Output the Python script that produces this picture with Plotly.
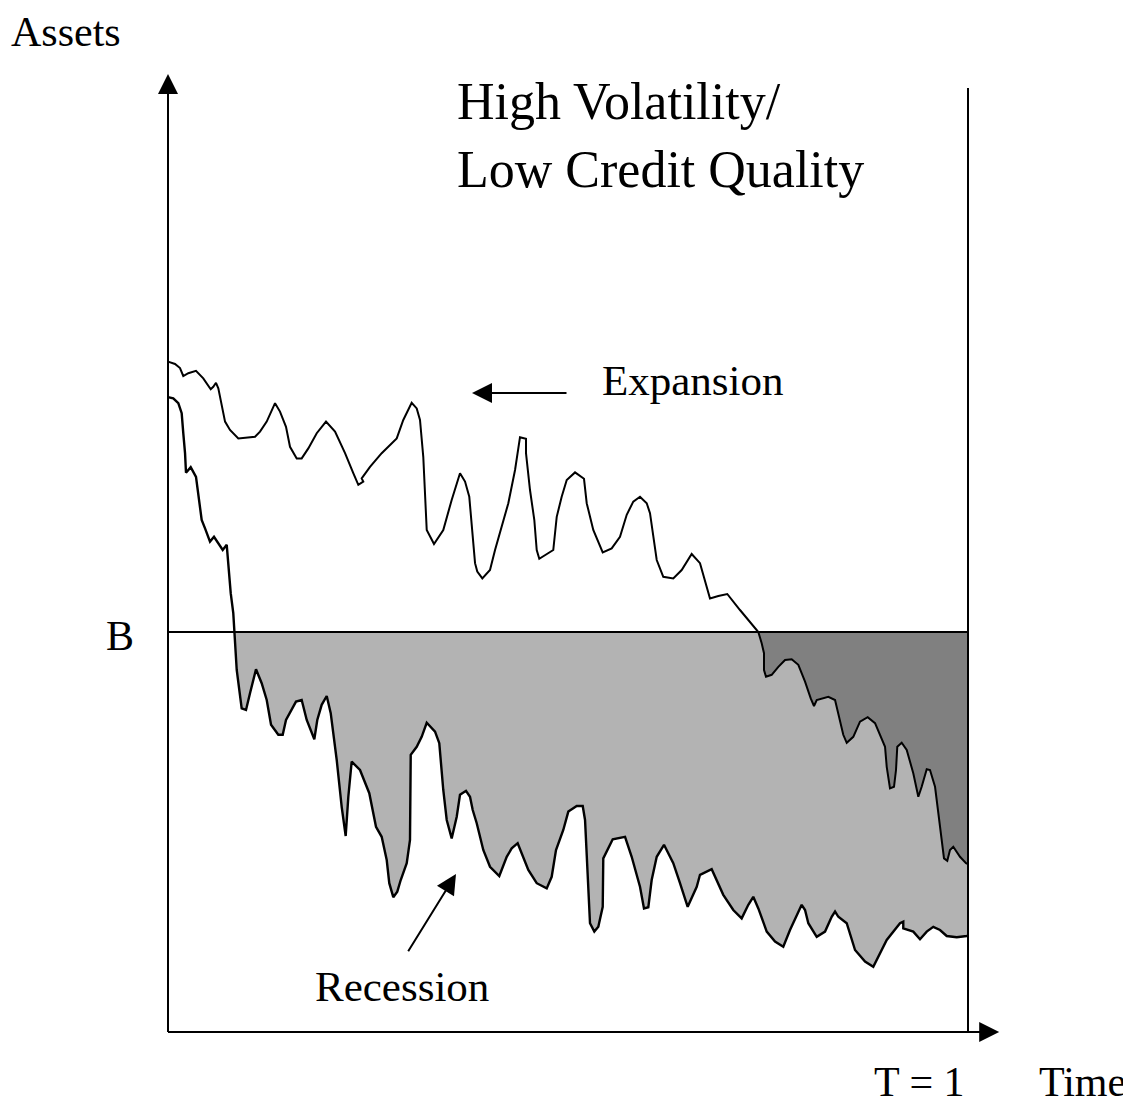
import plotly.graph_objects as go

# ---- data (time as fraction of horizon T, assets with default barrier B = 100) ----
B_LEVEL = 100.0
T_END = 1.0

time_expansion = [
    0.000, 0.0088, 0.015, 0.0191, 0.0254, 0.035, 0.0441, 0.0534, 0.0566, 0.06,
    0.0629, 0.0671, 0.0713, 0.0775, 0.0879, 0.1088, 0.115, 0.1234, 0.1338, 0.14,
    0.1475, 0.1525, 0.1609, 0.1671, 0.1754, 0.1859, 0.1975, 0.2088, 0.2213, 0.2316,
    0.2379, 0.2441, 0.2421, 0.2525, 0.2671, 0.2859, 0.2941, 0.3046, 0.3109, 0.315,
    0.3191, 0.3234, 0.3325, 0.3441, 0.3546, 0.365, 0.3713, 0.3766, 0.3796, 0.3838,
    0.3866, 0.3929, 0.4025, 0.4088, 0.4254, 0.4338, 0.44, 0.4475, 0.4475, 0.4525,
    0.4579, 0.4609, 0.4641, 0.4816, 0.4859, 0.4921, 0.4984, 0.5088, 0.52, 0.5234,
    0.5316, 0.5434, 0.5546, 0.565, 0.5734, 0.5816, 0.59, 0.5984, 0.6025, 0.6109,
    0.6191, 0.6316, 0.6421, 0.6546, 0.665, 0.6713, 0.6775, 0.6879, 0.6991, 0.715,
    0.7379, 0.7421, 0.745, 0.745, 0.7475, 0.7546, 0.7629, 0.7713, 0.7796, 0.7879,
    0.7963, 0.8034, 0.8075, 0.8109, 0.8254, 0.8338, 0.84, 0.8441, 0.8484, 0.8566,
    0.865, 0.8746, 0.8838, 0.8921, 0.8963, 0.8984, 0.9025, 0.9075, 0.91, 0.9116,
    0.9171, 0.9234, 0.9316, 0.9379, 0.9421, 0.9484, 0.9525, 0.9588, 0.9629, 0.9671,
    0.97, 0.9741, 0.9775, 0.9816, 0.99, 0.9975, 1.0,
]
assets_expansion = [
    167.6, 167.0, 166.0, 164.0, 164.7, 165.3, 163.4, 160.7, 161.3, 162.3,
    160.9, 156.3, 152.6, 150.5, 148.4, 148.8, 150.1, 152.6, 157.2, 155.1,
    151.3, 146.3, 143.4, 143.4, 145.9, 149.7, 152.6, 150.1, 144.7, 139.7,
    136.8, 137.6, 138.4, 141.3, 144.7, 148.4, 153.0, 157.3, 155.9, 153.0,
    143.8, 125.5, 122.0, 125.5, 133.0, 139.7, 137.6, 133.8, 127.2, 117.2,
    115.1, 113.4, 115.5, 120.5, 132.2, 140.5, 148.7, 148.3, 144.7, 135.5,
    128.0, 120.5, 118.3, 120.5, 128.8, 133.8, 138.0, 139.9, 138.3, 132.2,
    125.5, 119.9, 120.9, 123.8, 129.3, 132.6, 133.8, 132.2, 129.7, 118.0,
    113.8, 113.4, 115.5, 119.5, 117.2, 113.0, 108.4, 109.0, 109.5, 105.5,
    100.0, 97.2, 94.7, 90.5, 88.8, 89.3, 91.3, 93.0, 93.2, 91.8,
    87.6, 83.4, 81.5, 83.0, 83.8, 83.0, 78.0, 74.3, 72.3, 73.8,
    77.6, 78.7, 77.2, 73.4, 71.3, 66.3, 60.9, 61.3, 65.5, 71.3,
    72.3, 70.5, 64.7, 58.8, 61.3, 65.7, 65.5, 61.3, 54.7, 48.8,
    43.4, 42.8, 45.5, 46.3, 43.8, 42.2, 42.0,
]

time_recession = [
    0.0, 0.0066, 0.0129, 0.0171, 0.0191, 0.0213, 0.0225, 0.0284, 0.035, 0.0379,
    0.0421, 0.0463, 0.0525, 0.0575, 0.0629, 0.0684, 0.0734, 0.0754, 0.0784, 0.0816,
    0.0834, 0.0859, 0.0921, 0.0975, 0.1025, 0.11, 0.1171, 0.1234, 0.1288, 0.1379,
    0.1434, 0.1475, 0.16, 0.1671, 0.1734, 0.1829, 0.1866, 0.1921, 0.1984, 0.2034,
    0.2109, 0.2171, 0.2221, 0.2254, 0.2296, 0.24, 0.2516, 0.26, 0.2671, 0.2734,
    0.2766, 0.2816, 0.2866, 0.2909, 0.2984, 0.3025, 0.3034, 0.3109, 0.3171, 0.3234,
    0.3338, 0.3391, 0.3441, 0.3484, 0.3546, 0.3609, 0.365, 0.3725, 0.3775, 0.3809,
    0.3859, 0.3941, 0.4025, 0.4141, 0.4234, 0.4296, 0.4371, 0.4421, 0.4504, 0.4609,
    0.4734, 0.4796, 0.485, 0.4941, 0.5004, 0.5109, 0.5184, 0.5213, 0.5254, 0.5275,
    0.5329, 0.5379, 0.5434, 0.5441, 0.5559, 0.5713, 0.5796, 0.59, 0.595, 0.6004,
    0.6046, 0.6109, 0.62, 0.6316, 0.64, 0.6496, 0.6609, 0.665, 0.6796, 0.6941,
    0.7066, 0.7171, 0.7254, 0.7316, 0.7379, 0.7484, 0.7588, 0.7691, 0.7775, 0.7859,
    0.7921, 0.7963, 0.8004, 0.8109, 0.8213, 0.8296, 0.8338, 0.8379, 0.8484, 0.8588,
    0.8713, 0.8816, 0.8921, 0.8984, 0.915, 0.9191, 0.9191, 0.9316, 0.94, 0.9484,
    0.9566, 0.965, 0.9734, 0.9859, 0.9984, 1.0,
]
assets_recession = [
    158.7, 158.4, 157.2, 154.7, 149.7, 144.7, 139.8, 141.2, 138.8, 133.8,
    128.0, 125.9, 122.6, 123.8, 122.3, 120.5, 121.8, 116.3, 109.7, 104.7,
    99.7, 90.5, 80.9, 80.5, 84.7, 90.7, 87.2, 83.0, 76.8, 74.3,
    74.3, 78.0, 82.6, 83.0, 78.0, 73.2, 78.0, 81.8, 84.0, 79.7,
    68.0, 56.3, 49.0, 58.8, 67.6, 65.5, 59.7, 51.3, 48.8, 43.0,
    37.2, 33.7, 35.1, 38.0, 42.2, 48.0, 69.3, 71.3, 73.8, 77.3,
    75.1, 72.2, 60.5, 53.0, 48.4, 53.8, 59.3, 60.3, 58.8, 55.5,
    52.2, 45.5, 41.3, 39.0, 43.8, 45.9, 47.2, 44.7, 40.5, 37.2,
    35.9, 38.8, 45.5, 50.5, 55.1, 56.5, 56.5, 53.0, 38.0, 27.2,
    25.1, 26.3, 31.3, 43.4, 48.2, 48.8, 43.8, 36.3, 30.9, 31.2,
    38.0, 43.8, 46.8, 42.2, 37.2, 31.3, 36.3, 39.3, 40.7, 34.3,
    30.5, 28.4, 31.8, 33.8, 30.9, 25.1, 22.6, 21.3, 25.5, 29.3,
    31.8, 30.5, 27.2, 23.8, 25.1, 28.8, 30.1, 28.8, 27.2, 20.5,
    17.6, 16.3, 20.5, 23.0, 27.2, 27.6, 25.9, 25.1, 23.2, 25.1,
    26.3, 25.5, 24.0, 23.7, 24.0, 24.1,
]

LIGHT_GRAY = "rgb(179,179,179)"
DARK_GRAY = "rgb(128,128,128)"
FONT = "Liberation Serif, Times New Roman, serif"


def below_barrier_polygon(xs, ys, level, t_end):
    """Region between the barrier and the path once the path has crossed below it."""
    i = next(k for k, v in enumerate(ys) if v <= level)
    x0, y0, x1, y1 = xs[i - 1], ys[i - 1], xs[i], ys[i]
    t_cross = x0 + (y0 - level) / (y0 - y1) * (x1 - x0) if y0 != y1 else x1
    px = [t_cross] + list(xs[i:]) + [t_end, t_cross]
    py = [level] + list(ys[i:]) + [level, level]
    return px, py


fig = go.Figure()

rx, ry = below_barrier_polygon(time_recession, assets_recession, B_LEVEL, T_END)
fig.add_trace(go.Scatter(x=rx, y=ry, mode="lines", fill="toself",
                         fillcolor=LIGHT_GRAY, line=dict(width=0), hoverinfo="skip"))
ex, ey = below_barrier_polygon(time_expansion, assets_expansion, B_LEVEL, T_END)
fig.add_trace(go.Scatter(x=ex, y=ey, mode="lines", fill="toself",
                         fillcolor=DARK_GRAY, line=dict(width=0), hoverinfo="skip"))

fig.add_trace(go.Scatter(x=time_recession, y=assets_recession, mode="lines",
                         line=dict(color="black", width=2.4), name="Recession"))
fig.add_trace(go.Scatter(x=time_expansion, y=assets_expansion, mode="lines",
                         line=dict(color="black", width=2), name="Expansion"))

# barrier line, T = 1 line, axes
line_style = dict(color="black", width=2)
fig.add_shape(type="line", x0=0, x1=T_END, y0=B_LEVEL, y1=B_LEVEL, line=line_style, layer="above")
fig.add_shape(type="line", x0=T_END, x1=T_END, y0=0, y1=236, line=line_style, layer="above")
fig.add_shape(type="line", x0=0, x1=0, y0=0, y1=236, line=line_style, layer="above")
fig.add_shape(type="line", x0=0, x1=1.03, y0=0, y1=0, line=line_style, layer="above")

arrow = dict(showarrow=True, arrowhead=2, arrowsize=2, arrowwidth=2, arrowcolor="black",
             axref="x", ayref="y", text="", standoff=0, startstandoff=0)
fig.add_annotation(x=0, y=239.5, ax=0, ay=200, **arrow)            # assets axis
fig.add_annotation(x=1.039, y=0, ax=0.95, ay=0, **arrow)            # time axis
fig.add_annotation(x=0.38, y=159.75, ax=0.5, ay=159.75, **arrow)     # expansion pointer
fig.add_annotation(x=0.36, y=39.5, ax=0.2991, ay=19.8, **arrow)      # recession pointer

txt = dict(showarrow=False, yanchor="middle", xanchor="center")
f42 = dict(family=FONT, size=42, color="black")
f43 = dict(family=FONT, size=43, color="black")
fig.add_annotation(x=-0.1275, y=249.9, text="Assets", font=f42, **txt)
fig.add_annotation(x=-0.0605, y=99.0, text="B", font=f42, **txt)
fig.add_annotation(x=0.65625, y=163.0, text="Expansion", font=f43, **txt)
fig.add_annotation(x=0.2925, y=11.4, text="Recession", font=f43, **txt)
fig.add_annotation(x=0.93875, y=-12.4, text="T = 1", font=f42, **txt)
fig.add_annotation(x=1.1425, y=-12.4, text="Time", font=f42, **txt)

title = dict(showarrow=False, font=dict(family=FONT, size=52, color="black"),
             yanchor="middle", xanchor="left")
fig.add_annotation(x=0.3585, y=232.75, text="High Volatility/", **title)
fig.add_annotation(x=0.3585, y=215.75, text="Low Credit Quality", **title)

# the page body keeps an 8 px margin, so the figure is 8 px smaller and the
# ranges start 8 px further in to land on the same page pixels
fig.update_xaxes(range=[-0.2, 1.20375], visible=False, fixedrange=True)
fig.update_yaxes(range=[-18.5, 256], visible=False, fixedrange=True)
fig.update_layout(width=1123, height=1098, autosize=False,
                  margin=dict(l=0, r=0, t=0, b=0, pad=0),
                  paper_bgcolor="white", plot_bgcolor="white", showlegend=False)

fig.write_html("out.html", config={"displayModeBar": False})
